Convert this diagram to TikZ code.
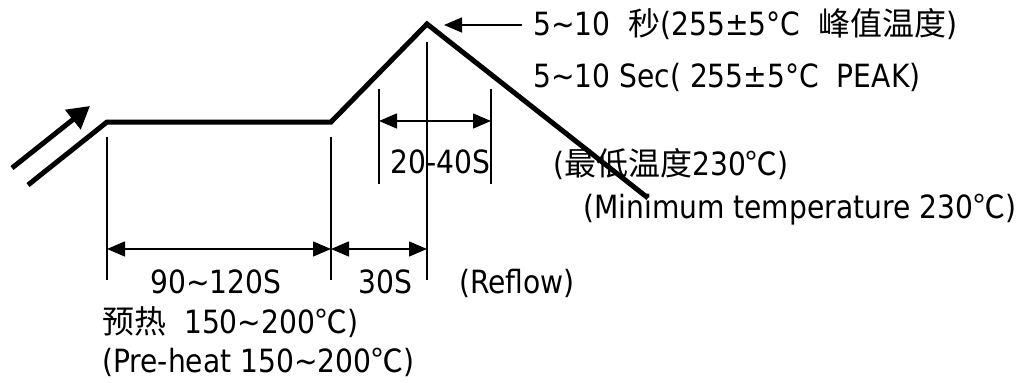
\documentclass[tikz,border=0pt]{standalone}
\usepackage{fontspec}
\setmainfont{DejaVu Sans}[FakeStretch=0.88]
\newfontfamily\cjk{Noto Sans CJK SC}
\usetikzlibrary{arrows.meta}

\begin{document}
\begin{tikzpicture}[x=1pt,y=-1pt,
  mytext/.style={anchor=base west,inner sep=0pt,font=\fontsize{32}{36}\selectfont},
  myprofile/.style={line width=5pt,line join=miter},
  mythin/.style={line width=1.5pt},
  mydim/.style={line width=1.5pt,{Triangle[length=18pt,width=15pt]}-{Triangle[length=18pt,width=15pt]}}]
\useasboundingbox (0,0) rectangle (1018,383);
% the profile
\coordinate (start) at (28,185);
\coordinate (preA) at (107,122);
\coordinate (preB) at (331,122);
\coordinate (peak) at (427,24);
\coordinate (cool) at (648,198);
\draw[myprofile] (start) -- (preA) -- (preB) -- (peak) -- (cool);
\coordinate (heatA) at (12,168);
\coordinate (heatB) at (90,106);
\draw[myprofile,-{Triangle[length=22pt,width=24pt]}] (heatA) -- (heatB);
% marker lines
\foreach \vname/\xx/\ya/\yb in {va/107/137/280,vb/331/137/280,vc/427/42/280,vd/379/89/184,ve/491/89/184}
  {\coordinate (\vname top) at (\xx,\ya);
   \coordinate (\vname bot) at (\xx,\yb);
   \draw[mythin] (\vname top) -- (\vname bot);}
% dimensions
\coordinate (dimAl) at (107,249);
\coordinate (dimAr) at (331,249);
\coordinate (dimBr) at (427,249);
\coordinate (dimCl) at (379,121);
\coordinate (dimCr) at (491,121);
\draw[mydim] (dimAl) -- (dimAr);
\draw[mydim] (dimAr) -- (dimBr);
\draw[mydim] (dimCl) -- (dimCr);
\coordinate (peaktail) at (522,25);
\coordinate (peaktip) at (444,25);
\draw[mythin,-{Triangle[length=18pt,width=15pt]}] (peaktail) -- (peaktip);
% labels
\node[mytext] (peakzh) at (533,35) {5\textasciitilde10\ \ {\cjk 秒}(255±5°C\ \ {\cjk 峰值温度})};
\node[mytext] (peaken) at (533,87) {5\textasciitilde10 Sec( 255±5°C\ \ PEAK)};
\node[mytext] (range) at (390,173) {20-40S};
\node[mytext] (minzh) at (553,175) {({\cjk 最低温度}230{\cjk ℃})};
\node[mytext] (minen) at (583,218) {(Minimum temperature 230{\cjk ℃})};
\node[mytext] (preheat) at (150,293) {90\textasciitilde120S};
\node[mytext] (reflow) at (358,293) {30S};
\node[mytext] (reflowlbl) at (459,293) {(Reflow)};
\node[mytext] (prezh) at (102,333) {{\cjk 预热}\ \ 150\textasciitilde200{\cjk ℃})};
\node[mytext] (preen) at (102,372) {(Pre-heat 150\textasciitilde200{\cjk ℃})};
\end{tikzpicture}
\end{document}
